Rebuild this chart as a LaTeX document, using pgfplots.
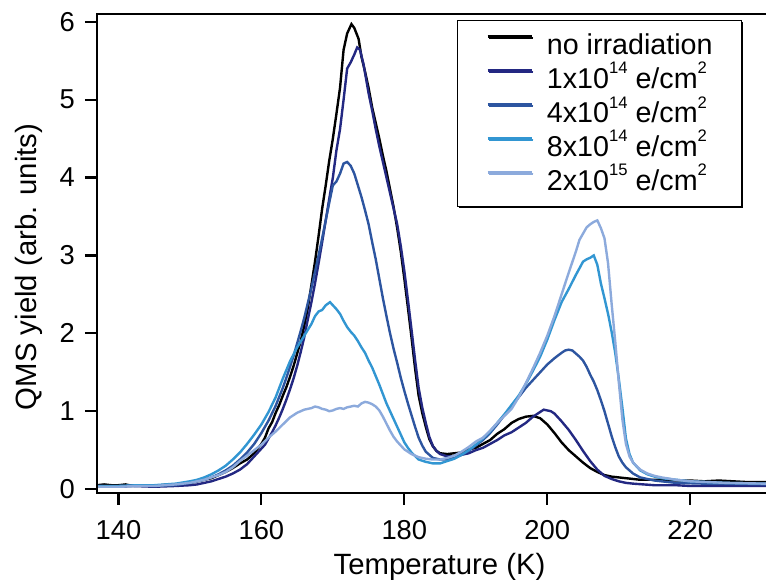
\documentclass[border=0pt]{standalone}
\usepackage{pgfplots}
\pgfplotsset{compat=1.18}
\usepackage{fontspec}
\setmainfont{Liberation Sans}
\usetikzlibrary{shadows}
\definecolor{cnavy}{RGB}{35,40,130}
\definecolor{cmed}{RGB}{45,85,160}
\definecolor{clight}{RGB}{50,150,210}
\definecolor{cpale}{RGB}{140,170,220}
\newcommand{\sups}[1]{\raisebox{0.52em}{\fontsize{12.5}{12.5}\selectfont #1}}
\begin{document}
\begin{tikzpicture}
\begin{axis}[
  scale only axis,
  width=501.75pt, height=359.25pt,
  xmin=137.0, xmax=230.6,
  ymin=-0.05, ymax=6.1,
  xtick={140,160,180,200,220},
  ytick={0,1,2,3,4,5,6},
  minor tick num=0,
  xtick pos=bottom, ytick pos=left,
  tick align=outside,
  major tick length=9pt,
  tick style={black, line width=1.6pt},
  axis line style={draw=none},
  /pgf/number format/assume math mode=true,
  ticklabel style={font=\fontsize{20.5}{24}\selectfont, inner sep=0pt},
  yticklabel style={anchor=east, xshift=-7.5pt},
  xticklabel style={anchor=north},
  xticklabel shift=11.25pt,
  xlabel={Temperature (K)},
  ylabel={QMS yield (arb. units)},
  label style={font=\fontsize{22}{26}\selectfont, inner sep=0pt},
  xlabel style={at={(axis description cs:0.512,-0.171)}, anchor=base},
  ylabel style={at={(axis description cs:-0.090,0.472)}, anchor=base},
  legend cell align=left,
  legend style={at={(rel axis cs:0.964,0.9875)}, anchor=north east,
    draw=black, line width=1pt, fill=white,
    drop shadow={shadow xshift=1.2pt, shadow yshift=-1.2pt, fill=black, opacity=1},
    font=\fontsize{21.5}{25.5}\selectfont,
    inner xsep=21.5pt, inner ysep=5.85pt, row sep=0pt,
    nodes={inner sep=0pt, text height=19.85pt, text depth=5.65pt}},
  legend image code/.code={\draw[#1, line width=2.25pt] (0pt,7pt) -- (33pt,7pt); \path (43.5pt,7pt);},
  every axis plot/.append style={line width=1.8pt},
  after end axis/.code={
    \draw[line width=1.6pt, black] (rel axis cs:1,1) -- (rel axis cs:0,1) -- (rel axis cs:0,0) -- (rel axis cs:1,0);
  },
]
% no irradiation
\addplot[black] coordinates {
(137,0.05)(138,0.06)(139,0.05)(140,0.05)(141,0.06)(142,0.04)(143,0.05)(144,0.05)(145,0.04)(146,0.05)(147,0.06)(148,0.06)(149,0.07)(150,0.08)(151,0.10)(152,0.12)(153,0.14)(154,0.18)(155,0.22)(156,0.27)(157,0.33)(158,0.38)(159,0.46)(160,0.58)(160.5,0.66)(161,0.78)(161.5,0.86)(162,0.98)(162.5,1.08)(163,1.20)(163.5,1.31)(164,1.44)(164.5,1.58)(165,1.74)(165.5,1.90)(166,2.10)(166.5,2.33)(167,2.62)(167.5,2.92)(168,3.25)(168.5,3.60)(169,3.90)(169.5,4.22)(170,4.50)(170.5,4.82)(171,5.15)(171.5,5.64)(172,5.85)(172.6,5.97)(173,5.92)(173.6,5.78)(174,5.55)(174.5,5.36)(175,5.15)(175.5,4.90)(176,4.70)(176.5,4.50)(177,4.28)(177.5,4.08)(178,3.85)(178.5,3.62)(179,3.35)(179.5,3.05)(180,2.70)(180.5,2.33)(181,1.95)(181.5,1.55)(182,1.20)(182.5,0.98)(183,0.80)(183.5,0.64)(184,0.55)(184.5,0.49)(185,0.46)(186,0.45)(187,0.46)(188,0.47)(189,0.51)(190,0.53)(191,0.58)(192,0.63)(193,0.71)(194,0.77)(195,0.85)(196,0.90)(197,0.93)(198,0.94)(199,0.91)(200,0.83)(201,0.72)(202,0.60)(203,0.50)(204,0.42)(205,0.34)(206,0.27)(207,0.22)(208,0.18)(209,0.16)(210,0.15)(211,0.14)(212,0.13)(213,0.12)(214,0.12)(216,0.12)(218,0.11)(220,0.11)(222,0.10)(224,0.11)(226,0.10)(228,0.09)(230.6,0.09)
};
\addlegendentry{no irradiation}
% 1e14
\addplot[cnavy] coordinates {
(137,0.04)(140,0.03)(142,0.04)(145,0.03)(148,0.04)(150,0.05)(151,0.06)(152,0.08)(153,0.10)(154,0.13)(155,0.16)(156,0.20)(157,0.25)(158,0.32)(159,0.42)(160,0.52)(160.5,0.57)(161,0.65)(161.5,0.73)(162,0.82)(162.5,0.92)(163,1.03)(163.5,1.15)(164,1.28)(164.5,1.42)(165,1.58)(165.5,1.76)(166,1.95)(166.5,2.18)(167,2.40)(167.5,2.64)(168,2.90)(168.5,3.17)(169,3.45)(169.5,3.73)(170,4.00)(170.5,4.35)(171,4.62)(171.5,5.00)(172,5.40)(172.5,5.48)(173,5.58)(173.4,5.67)(173.8,5.64)(174.3,5.45)(175,5.08)(175.5,4.86)(176,4.62)(176.5,4.40)(177,4.20)(177.5,4.00)(178,3.80)(178.5,3.60)(179,3.40)(179.5,3.12)(180,2.80)(180.5,2.43)(181,2.05)(181.5,1.66)(182,1.30)(182.5,1.05)(183,0.85)(183.5,0.67)(184,0.55)(184.5,0.49)(185,0.45)(186,0.42)(187,0.42)(188,0.44)(189,0.46)(190,0.50)(191,0.53)(192,0.58)(193,0.63)(194,0.69)(195,0.73)(196,0.79)(197,0.85)(198,0.93)(199,0.99)(199.5,1.02)(200,1.01)(200.5,1.00)(201,0.97)(202,0.87)(203,0.76)(204,0.63)(205,0.49)(206,0.36)(207,0.25)(208,0.17)(209,0.13)(210,0.10)(211,0.08)(212,0.07)(215,0.05)(218,0.05)(220,0.04)(225,0.04)(230.6,0.04)
};
\addlegendentry{1x10\sups{14} e/cm\sups{2}}
% 4e14
\addplot[cmed] coordinates {
(137,0.04)(140,0.04)(143,0.05)(145,0.04)(148,0.05)(150,0.08)(151,0.10)(152,0.12)(153,0.15)(154,0.19)(155,0.24)(156,0.30)(157,0.38)(158,0.47)(159,0.58)(160,0.72)(161,0.88)(162,1.07)(163,1.30)(163.5,1.43)(164,1.57)(164.5,1.71)(165,1.87)(165.5,2.03)(166,2.20)(166.5,2.39)(167,2.58)(167.5,2.79)(168,3.00)(168.5,3.22)(169,3.45)(169.5,3.68)(170,3.90)(170.5,3.95)(171,4.05)(171.5,4.18)(172,4.20)(172.5,4.15)(173,4.05)(173.5,3.90)(174,3.75)(174.5,3.58)(175,3.40)(175.5,3.17)(176,2.95)(176.5,2.70)(177,2.45)(177.5,2.22)(178,2.00)(178.5,1.80)(179,1.62)(179.5,1.43)(180,1.26)(180.5,1.10)(181,0.95)(181.5,0.80)(182,0.66)(182.5,0.56)(183,0.48)(184,0.40)(185,0.38)(186,0.38)(187,0.40)(188,0.44)(189,0.49)(190,0.56)(191,0.63)(192,0.72)(193,0.83)(194,0.95)(195,1.07)(196,1.18)(197,1.30)(198,1.40)(199,1.50)(200,1.60)(201,1.68)(202,1.75)(202.5,1.78)(203,1.79)(203.5,1.78)(204,1.74)(204.5,1.70)(205,1.65)(205.5,1.57)(206,1.47)(206.5,1.38)(207,1.27)(207.5,1.14)(208,1.00)(208.5,0.84)(209,0.68)(209.5,0.54)(210,0.42)(210.5,0.34)(211,0.28)(212,0.20)(213,0.15)(214,0.13)(215,0.11)(218,0.08)(222,0.07)(226,0.07)(230.6,0.06)
};
\addlegendentry{4x10\sups{14} e/cm\sups{2}}
% 8e14
\addplot[clight] coordinates {
(137,0.04)(140,0.04)(143,0.05)(145,0.05)(148,0.07)(150,0.10)(151,0.12)(152,0.15)(153,0.19)(154,0.24)(155,0.30)(156,0.38)(157,0.47)(158,0.58)(159,0.70)(160,0.83)(161,0.99)(162,1.18)(163,1.42)(164,1.64)(165,1.82)(166,1.97)(167,2.12)(167.5,2.22)(168,2.28)(168.5,2.30)(169,2.36)(169.6,2.40)(170,2.36)(170.5,2.31)(171,2.25)(171.5,2.16)(172,2.08)(172.5,2.02)(173,1.97)(173.5,1.90)(174,1.82)(174.5,1.75)(175,1.65)(175.5,1.56)(176,1.45)(176.5,1.34)(177,1.22)(177.5,1.10)(178,1.00)(178.5,0.90)(179,0.80)(179.5,0.70)(180,0.60)(180.5,0.53)(181,0.47)(182,0.38)(183,0.35)(184,0.33)(185,0.33)(186,0.36)(187,0.39)(188,0.44)(189,0.50)(190,0.57)(191,0.65)(192,0.74)(193,0.85)(194,0.96)(195,1.08)(196,1.20)(197,1.35)(198,1.52)(199,1.70)(200,1.92)(201,2.17)(202,2.40)(203,2.57)(204,2.75)(205,2.92)(205.5,2.95)(206,2.97)(206.5,3.00)(207,2.88)(207.5,2.64)(208,2.45)(208.5,2.25)(209,2.02)(209.5,1.75)(210,1.42)(210.5,1.05)(211,0.65)(211.5,0.45)(212,0.34)(213,0.24)(214,0.19)(215,0.16)(216,0.14)(218,0.12)(220,0.10)(225,0.08)(230.6,0.07)
};
\addlegendentry{8x10\sups{14} e/cm\sups{2}}
% 2e15
\addplot[cpale] coordinates {
(137,0.03)(140,0.03)(143,0.04)(145,0.04)(148,0.06)(150,0.08)(151,0.10)(152,0.12)(153,0.15)(154,0.18)(155,0.22)(156,0.28)(157,0.36)(158,0.43)(159,0.50)(160,0.57)(161,0.66)(162,0.74)(163,0.83)(164,0.92)(165,0.98)(166,1.02)(167,1.04)(167.5,1.06)(168,1.05)(168.5,1.03)(169,1.02)(169.5,1.00)(170,1.01)(170.5,1.03)(171,1.04)(171.5,1.03)(172,1.05)(172.5,1.06)(173,1.07)(173.5,1.06)(174,1.10)(174.5,1.12)(175,1.11)(175.5,1.09)(176,1.06)(176.5,1.01)(177,0.93)(177.5,0.84)(178,0.75)(178.5,0.67)(179,0.61)(180,0.51)(181,0.45)(182,0.41)(183,0.39)(184,0.38)(185,0.38)(186,0.40)(187,0.43)(188,0.48)(189,0.54)(190,0.61)(191,0.66)(192,0.75)(193,0.85)(194,0.94)(195,1.03)(196,1.18)(197,1.36)(198,1.55)(199,1.75)(200,1.97)(201,2.22)(202,2.50)(203,2.78)(204,3.05)(204.5,3.20)(205,3.28)(205.5,3.36)(206,3.40)(206.5,3.43)(207,3.45)(207.5,3.35)(208,3.22)(208.5,2.90)(209,2.38)(209.5,1.90)(210,1.38)(210.5,0.90)(211,0.58)(211.5,0.42)(212,0.34)(213,0.25)(214,0.20)(215,0.17)(216,0.15)(218,0.12)(220,0.10)(225,0.08)(230.6,0.07)
};
\addlegendentry{2x10\sups{15} e/cm\sups{2}}
\end{axis}
\pgfresetboundingbox
\path (current axis.south west) ++(-72.75pt,-65.25pt) rectangle ++(574.5pt,435pt);
\end{tikzpicture}
\end{document}
